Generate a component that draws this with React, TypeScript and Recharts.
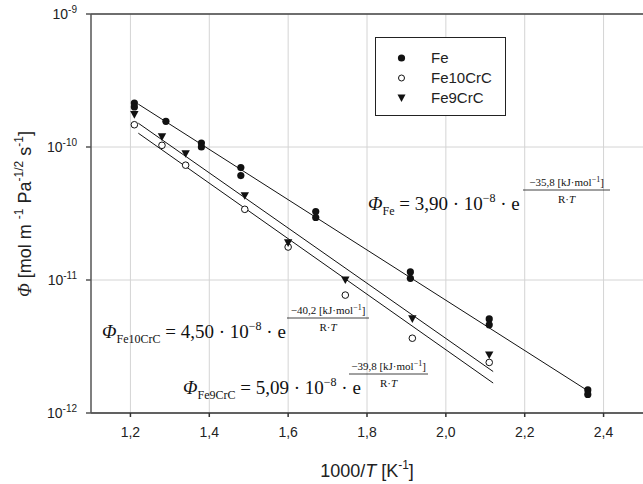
import React from "react"
import { ComposedChart, Scatter, XAxis, YAxis, CartesianGrid, ReferenceLine } from "recharts"

// axis ticks
const xTicks = [1.2, 1.4, 1.6, 1.8, 2.0, 2.2, 2.4]
const yTicks = [1e-12, 1e-11, 1e-10, 1e-9]

// measured points, Fe
const feX = [1.21, 1.21, 1.29, 1.38, 1.38, 1.48, 1.48, 1.67, 1.67, 1.91, 1.91, 2.11, 2.11, 2.36, 2.36]
const feY = [2.14e-10, 2.0e-10, 1.56e-10, 1.07e-10, 1.0e-10, 7.0e-11, 6.1e-11, 3.27e-11, 2.95e-11, 1.15e-11, 1.03e-11, 5.1e-12, 4.6e-12, 1.49e-12, 1.38e-12]

// Fe10CrC
const fe10X = [1.21, 1.28, 1.34, 1.49, 1.6, 1.745, 1.915, 2.11]
const fe10Y = [1.47e-10, 1.03e-10, 7.3e-11, 3.4e-11, 1.77e-11, 7.7e-12, 3.65e-12, 2.4e-12]

// Fe9CrC
const fe9X = [1.21, 1.28, 1.34, 1.49, 1.6, 1.745, 1.915, 2.11]
const fe9Y = [1.75e-10, 1.19e-10, 8.9e-11, 4.3e-11, 1.9e-11, 1.0e-11, 5.1e-12, 2.73e-12]

// fitted lines (end points)
const feFitX = [1.22, 2.36]
const feFitY = [2.1e-10, 1.47e-12]
const fe9FitX = [1.22, 2.12]
const fe9FitY = [1.51e-10, 2.05e-12]
const fe10FitX = [1.22, 2.12]
const fe10FitY = [1.27e-10, 1.68e-12]

const seriesNames = ["Fe", "Fe10CrC", "Fe9CrC"]

const zip = (xs: number[], ys: number[]) => xs.map((x, i) => ({ x, y: ys[i] }))

const sans = "'Liberation Sans', Arial, sans-serif"
const serif = "'Liberation Serif', 'Times New Roman', serif"
const ink = "#111"

const FilledDot = (p: any) => <circle cx={p.cx} cy={p.cy} r={3.6} fill={ink} />
const OpenDot = (p: any) => <circle cx={p.cx} cy={p.cy} r={3.3} fill="#fff" stroke={ink} strokeWidth={1} />
const DownTri = (p: any) => (
  <path d={`M${p.cx - 4.2},${p.cy - 3.6} L${p.cx + 4.2},${p.cy - 3.6} L${p.cx},${p.cy + 4} Z`} fill={ink} />
)
const NoDot = () => <g />

const YTick = (props: any) => {
  const { x, y, payload } = props
  const exp = Math.round(Math.log10(payload.value))
  return (
    <text x={x - 7} y={y + 5} textAnchor="end" fontFamily={sans} fontSize={14} fill="#222">
      10<tspan fontSize={10} dy={-6}>{exp}</tspan>
    </text>
  )
}

const XTick = (props: any) => {
  const { x, y, payload } = props
  return (
    <text x={x} y={y + 18} textAnchor="middle" fontFamily={sans} fontSize={14} fill="#222">
      {payload.value.toFixed(1).replace(".", ",")}
    </text>
  )
}

function Formula(props: { x: number; y: number; sub: string; coef: string; num: string; fx: number; fw: number }) {
  const { x, y, sub, coef, num, fx, fw } = props
  return (
    <g fontFamily={serif} fill={ink}>
      <text x={x} y={y} fontSize={19}>
        <tspan fontStyle="italic">Φ</tspan>
        <tspan fontSize={12} dy={5}>{sub}</tspan>
        <tspan dy={-5}>{" = " + coef + " · 10"}</tspan>
        <tspan fontSize={12} dy={-8}>−8</tspan>
        <tspan dy={8}>{" · e"}</tspan>
      </text>
      <text x={fx + fw / 2} y={y - 24} fontSize={11} textAnchor="middle">
        {num + " [kJ·mol"}
        <tspan fontSize={8} dy={-4}>−1</tspan>
        <tspan dy={4}>]</tspan>
      </text>
      <line x1={fx} x2={fx + fw} y1={y - 20} y2={y - 20} stroke={ink} strokeWidth={0.8} />
      <text x={fx + fw / 2} y={y - 7} fontSize={11} textAnchor="middle">
        R·<tspan fontStyle="italic">T</tspan>
      </text>
    </g>
  )
}

export default function App() {
  return (
    <div style={{ position: "absolute", left: 0, top: 0, width: 643, height: 484, background: "#fff" }}>
      <ComposedChart width={643} height={484} margin={{ top: 14, right: 0, bottom: 0, left: 0 }}>
        <CartesianGrid stroke="#d4d4d4" strokeWidth={1} verticalValues={xTicks} />
        <XAxis
          type="number"
          dataKey="x"
          domain={[1.1, 2.5]}
          ticks={xTicks}
          allowDataOverflow
          height={71}
          tickSize={4}
          stroke="#333"
          strokeWidth={1.5}
          tick={<XTick />}
        />
        <YAxis
          type="number"
          dataKey="y"
          scale="log"
          domain={[1e-12, 1e-9]}
          ticks={yTicks}
          allowDataOverflow
          width={91}
          tickSize={5}
          stroke="#555"
          strokeWidth={1.5}
          tick={<YTick />}
        />
        <ReferenceLine y={1e-9} stroke="#444" strokeWidth={1.5} />
        <Scatter data={zip(feFitX, feFitY)} line={{ stroke: ink, strokeWidth: 1 }} shape={NoDot} isAnimationActive={false} />
        <Scatter data={zip(fe9FitX, fe9FitY)} line={{ stroke: ink, strokeWidth: 1 }} shape={NoDot} isAnimationActive={false} />
        <Scatter data={zip(fe10FitX, fe10FitY)} line={{ stroke: ink, strokeWidth: 1 }} shape={NoDot} isAnimationActive={false} />
        <Scatter name={seriesNames[0]} data={zip(feX, feY)} shape={FilledDot} isAnimationActive={false} />
        <Scatter name={seriesNames[1]} data={zip(fe10X, fe10Y)} shape={OpenDot} isAnimationActive={false} />
        <Scatter name={seriesNames[2]} data={zip(fe9X, fe9Y)} shape={DownTri} isAnimationActive={false} />
      </ComposedChart>

      <svg width={643} height={484} style={{ position: "absolute", left: 0, top: 0, pointerEvents: "none" }}>
        {/* legend */}
        <rect x={375.5} y={37.5} width={130} height={78} fill="#fff" stroke="#222" strokeWidth={1} />
        <circle cx={401.5} cy={58} r={3.6} fill={ink} />
        <circle cx={401.5} cy={78} r={3} fill="#fff" stroke={ink} />
        <path d="M397.5,94.5 L405.5,94.5 L401.5,102 Z" fill={ink} />
        {seriesNames.map((n, i) => (
          <text key={n} x={431} y={63 + i * 20} fontFamily={sans} fontSize={15} fill="#222">
            {n}
          </text>
        ))}

        {/* axis titles */}
        <text x={367} y={477} textAnchor="middle" fontFamily={sans} fontSize={18} fill="#222">
          1000/<tspan fontStyle="italic">T</tspan> [K<tspan fontSize={12} dy={-8}>-1</tspan><tspan dy={8}>]</tspan>
        </text>
        <text transform="translate(31,214) rotate(-90)" textAnchor="middle" fontFamily={sans} fontSize={18} fill="#222">
          <tspan fontFamily={serif} fontStyle="italic">Φ</tspan> [mol m <tspan fontSize={12} dy={-8}>-1</tspan>
          <tspan dy={8}> Pa</tspan><tspan fontSize={12} dy={-8}>-1/2</tspan>
          <tspan dy={8}> s</tspan><tspan fontSize={12} dy={-8}>-1</tspan><tspan dy={8}>]</tspan>
        </text>

        {/* fit equations */}
        <Formula x={368} y={210} sub="Fe" coef="3,90" num="−35,8" fx={523} fw={87} />
        <Formula x={102} y={338} sub="Fe10CrC" coef="4,50" num="−40,2" fx={287} fw={82} />
        <Formula x={183} y={394} sub="Fe9CrC" coef="5,09" num="−39,8" fx={349} fw={79} />
      </svg>
    </div>
  )
}
